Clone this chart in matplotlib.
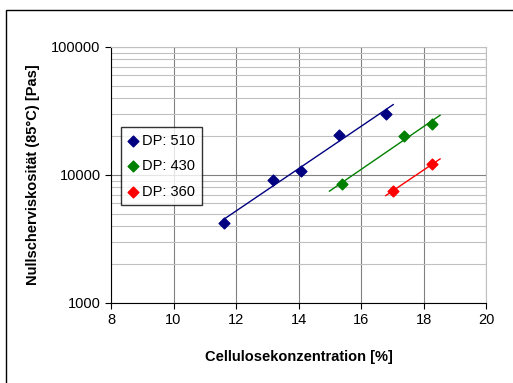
import numpy as np
import matplotlib.pyplot as plt
from matplotlib.patches import Rectangle
from matplotlib.ticker import LogLocator, NullFormatter, FixedLocator

plt.rcParams['font.family'] = ['Liberation Sans', 'DejaVu Sans']

# data
conc_510 = [11.6, 13.18, 14.08, 15.31, 16.79]
visc_510 = [4200, 9150, 10700, 20500, 30100]
conc_430 = [15.38, 17.38, 18.27]
visc_430 = [8500, 20200, 25200]
conc_360 = [17.01, 18.27]
visc_360 = [7500, 12100]

labels = ["DP: 510", "DP: 430", "DP: 360"]
colors = ["#000080", "#008000", "#ff0000"]
# trend line extents (x range of each exponential fit line)
trend_ranges = [(11.6, 17.03), (14.99, 18.53), (16.79, 18.53)]

fig = plt.figure(figsize=(5.13, 3.83), dpi=100)
ax = fig.add_axes([111/513, 1 - 303/383, 375/513, 256/383])

# outer chart frame
fig.patches.append(Rectangle((6/513, -0.1), 1.2, 1 - 10/383 + 0.1,
                             transform=fig.transFigure, fill=False,
                             edgecolor="black", lw=1.0, clip_on=False))

series = [(conc_510, visc_510), (conc_430, visc_430), (conc_360, visc_360)]
for (x, y), lab, c, rng in zip(series, labels, colors, trend_ranges):
    ax.scatter(x, y, marker="D", s=30, color=c, label=lab, zorder=4)
    b, a = np.polyfit(x, np.log(y), 1)
    xs = np.linspace(rng[0], rng[1], 50)
    ax.plot(xs, np.exp(a + b * xs), color=c, lw=1.0, zorder=3)

ax.set_yscale("log")
ax.set_xlim(8, 20)
ax.set_ylim(1000, 100000)
ax.set_xticks(range(8, 21, 2))
ax.yaxis.set_major_locator(FixedLocator([1000, 10000, 100000]))
ax.set_yticklabels(["1000", "10000", "100000"])
ax.yaxis.set_minor_locator(LogLocator(base=10, subs=np.arange(2, 10)))
ax.yaxis.set_minor_formatter(NullFormatter())
ax.tick_params(axis="y", which="minor", length=0)
ax.tick_params(axis="both", which="major", labelsize=10.5, length=4, direction="out")

ax.grid(True, which="major", axis="both", color="#808080", lw=0.8)
ax.grid(True, which="minor", axis="y", color="#c0c0c0", lw=0.8)
ax.set_axisbelow(True)

for side in ["top", "right"]:
    ax.spines[side].set_color("#c0c0c0")

ax.set_xlabel("Cellulosekonzentration [%]", fontsize=10.5, fontweight="bold", labelpad=16)
ax.set_ylabel("Nullscherviskosität (85°C) [Pas]", fontsize=10.5, fontweight="bold", labelpad=8)

leg = ax.legend(loc="upper left", bbox_to_anchor=(10/375, 176/256), fontsize=10.5,
                frameon=True, fancybox=False, handletextpad=0.2, handlelength=0.8,
                borderpad=0.45, labelspacing=0.8, borderaxespad=0)
leg.get_frame().set_edgecolor("black")
leg.get_frame().set_linewidth(1.0)

fig.savefig("out.png", dpi=100)
